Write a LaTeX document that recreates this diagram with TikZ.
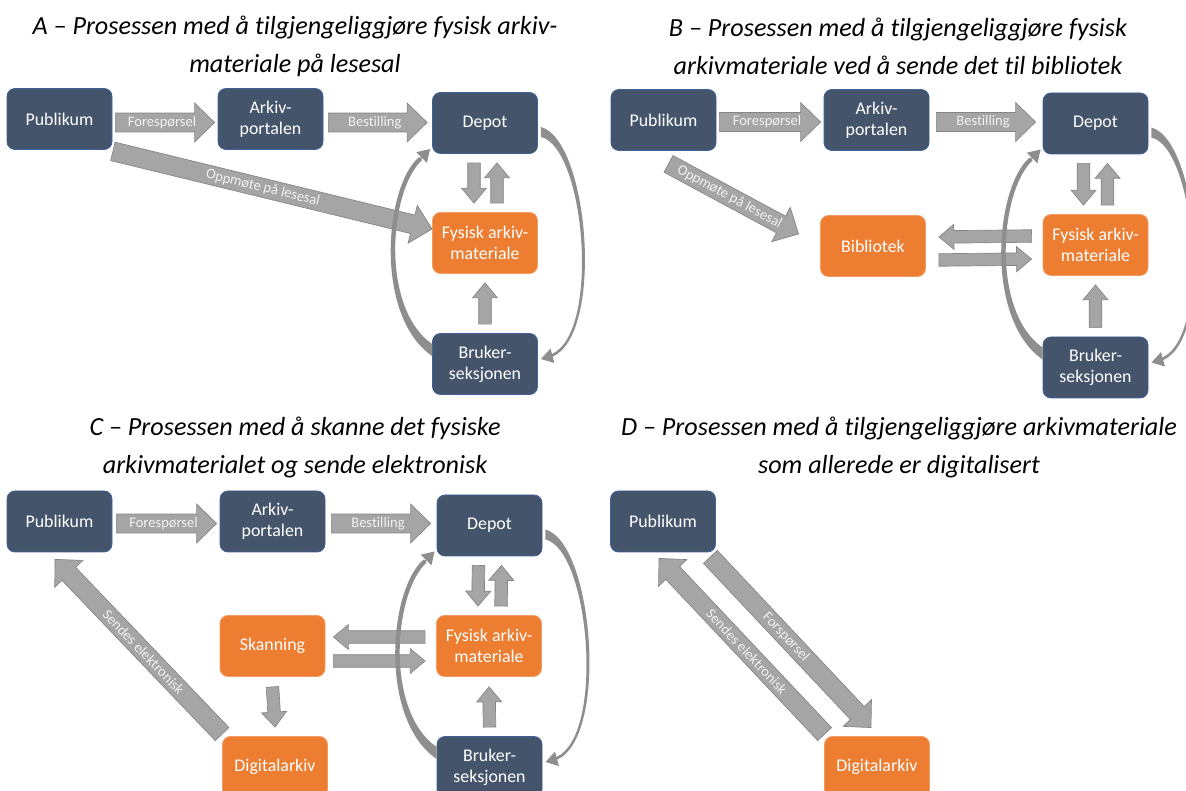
\documentclass[tikz,border=0pt]{standalone}
\usepackage{fontspec}
\setmainfont{Carlito}[Ligatures=NoCommon]
\usetikzlibrary{calc,arrows.meta}

\definecolor{navy}{HTML}{44546A}
\definecolor{navyedge}{HTML}{3E6199}
\definecolor{orng}{HTML}{ED7D31}
\definecolor{blkfill}{HTML}{A5A5A5}
\definecolor{blkedge}{HTML}{858585}
\definecolor{blktext}{HTML}{F2F2F2}
\definecolor{curvgray}{HTML}{8E8E8E}

\def\sw{7.1pt}\def\hw{14.6pt}\def\hl{15pt}
\newcommand\blockarr[3]{%
  \coordinate (ta) at (#1);
  \coordinate (tb) at (#2);
  \coordinate (hb) at ($(tb)!\hl!(ta)$);
  \filldraw[B] ($(ta)!\sw!90:(tb)$) -- ($(hb)!\sw!90:(tb)$) -- ($(hb)!\hw!90:(tb)$) -- (tb)
    -- ($(hb)!\hw!-90:(tb)$) -- ($(hb)!\sw!-90:(tb)$) -- ($(ta)!\sw!-90:(tb)$) -- cycle;
  \path (ta) -- (tb) node[pos=0.47, sloped, L] {#3};
}
\newcommand\bigarr[3]{\def\sw{7.1pt}\def\hw{14.6pt}\def\hl{15pt}\blockarr{#1}{#2}{#3}}
\newcommand\smallarr[2]{\def\sw{4.7pt}\def\hw{9.4pt}\def\hl{11.25pt}\blockarr{#1}{#2}{}}
\newcommand\loops[2]{%
  \fill[C] ($(#2.west)+(0,-8)$) .. controls ($(#2.west)+(-58,-48)$) and ($(#1.west)+(-48,64)$) .. ($(#1.west)+(-13,34)$)
    -- ($(#1.west)+(-10,37)$) .. controls ($(#1.west)+(-43,67)$) and ($(#2.west)+(-52,-56)$) .. ($(#2.west)+(0,-20)$) -- cycle;
  \draw[CT] ($(#1.west)+(-12,36)$) -- ($(#1.west)+(-2,26)$);
  \fill[C] ($(#1.east)+(3,4)$) .. controls ($(#1.east)+(51,17)$) and ($(#2.east)+(67,-29)$) .. ($(#2.east)+(14,-7)$)
    -- ($(#2.east)+(14,-10)$) .. controls ($(#2.east)+(63,-32)$) and ($(#1.east)+(47,24)$) .. ($(#1.east)+(3,14)$) -- cycle;
  \draw[CT] ($(#2.east)+(14,-8)$) -- ($(#2.east)+(3,-5)$);
}

\begin{document}
\begin{tikzpicture}[x=0.75pt, y=-0.75pt,
    box/.style={rounded corners=6pt, minimum width=78.75pt, minimum height=45.75pt,
      align=center, text=white, inner sep=2pt, line width=0.6pt,
      font=\fontsize{13.4}{15.8}\selectfont},
    D/.style={box, fill=navy, draw=navyedge},
    O/.style={box, fill=orng, draw=orng!75!white},
    B/.style={fill=blkfill, draw=blkedge, line width=0.5pt},
    L/.style={text=blktext, inner sep=0pt, font=\fontsize{10.9}{12}\selectfont},
    C/.style={fill=curvgray},
    CT/.style={draw=curvgray, line width=1pt, -{Triangle[length=9pt,width=11pt]}},
    T/.style={align=center, font=\fontsize{19.6}{28.5}\selectfont\itshape}]
  \useasboundingbox (0,0) rectangle (1186,791);

  \node[T] (titA) at (295,46) {A – Prosessen med å tilgjengeliggjøre fysisk arkiv-\\materiale på lesesal};
  \node[T] (titB) at (898,46) {B – Prosessen med å tilgjengeliggjøre fysisk\\arkivmateriale ved å sende det til bibliotek};
  \node[T] (titC) at (295,447) {C – Prosessen med å skanne det fysiske\\arkivmaterialet og sende elektronisk};
  \node[T] (titD) at (899,447) {D – Prosessen med å tilgjengeliggjøre arkivmateriale\\som allerede er digitalisert};

  % A
  \node[D] (pubA) at (59.5,119) {Publikum};
  \node[D] (arkA) at (270.5,119) {Arkiv-\\portalen};
  \node[D] (depA) at (485,123) {Depot};
  \node[O] (fysA) at (485,243) {Fysisk arkiv-\\materiale};
  \node[D] (bruA) at (485,364) {Bruker-\\seksjonen};
  \bigarr{$(pubA.east)+(3,3.5)$}{$(arkA.west)+(-3,3.5)$}{Forespørsel}
  \bigarr{$(arkA.east)+(5,3.5)$}{$(depA.west)+(-5,-0.5)$}{Bestilling}
  \bigarr{$(pubA.south east)+(0.5,1.5)$}{$(fysA.west)+(0,-14)$}{Oppmøte på lesesal}
  \smallarr{$(depA.south)+(-11,9)$}{$(fysA.north)+(-11,-9)$}
  \smallarr{$(fysA.north)+(12,-9)$}{$(depA.south)+(12,9)$}
  \smallarr{$(bruA.north)+(0,-9)$}{$(fysA.south)+(0,9)$}
  \loops{depA}{bruA}

  % B
  \node[D] (pubB) at (663.5,120) {Publikum};
  \node[D] (arkB) at (876.5,120) {Arkiv-\\portalen};
  \node[D] (depB) at (1095.5,123.5) {Depot};
  \node[O] (fysB) at (1095.5,245) {Fysisk arkiv-\\materiale};
  \node[O] (bibB) at (873,246) {Bibliotek};
  \node[D] (bruB) at (1095.5,367.5) {Bruker-\\seksjonen};
  \bigarr{$(pubB.east)+(3,2)$}{$(arkB.west)+(-3,2)$}{Forespørsel}
  \bigarr{$(arkB.east)+(7,2)$}{$(depB.west)+(-7,-1.5)$}{Bestilling}
  \bigarr{$(pubB.south)+(5,13)$}{$(bibB.west)+(-21.5,-12)$}{Oppmøte på lesesal}
  \smallarr{$(depB.south)+(-12,9)$}{$(fysB.north)+(-12,-9)$}
  \smallarr{$(fysB.north)+(12,-9)$}{$(depB.south)+(12,9)$}
  \smallarr{$(fysB.west)+(-11,-9)$}{$(bibB.east)+(13,-9)$}
  \smallarr{$(bibB.east)+(13,14)$}{$(fysB.west)+(-11,14)$}
  \smallarr{$(bruB.north)+(0,-9)$}{$(fysB.south)+(0,9)$}
  \loops{depB}{bruB}

  % C
  \node[D] (pubC) at (59.5,521.5) {Publikum};
  \node[D] (arkC) at (272.5,521.5) {Arkiv-\\portalen};
  \node[D] (depC) at (489.5,525.5) {Depot};
  \node[O] (fysC) at (489,646) {Fysisk arkiv-\\materiale};
  \node[O] (skaC) at (272.5,646) {Skanning};
  \node[O] (digC) at (275,767) {Digitalarkiv};
  \node[D] (bruC) at (489.5,767) {Bruker-\\seksjonen};
  \bigarr{$(pubC.east)+(4,2)$}{$(arkC.west)+(-3,2)$}{Forespørsel}
  \bigarr{$(arkC.east)+(6,2)$}{$(depC.west)+(-6,-2)$}{Bestilling}
  \smallarr{$(depC.south)+(-11,9)$}{$(fysC.north)+(-11,-9)$}
  \smallarr{$(fysC.north)+(12,-9)$}{$(depC.south)+(12,9)$}
  \smallarr{$(fysC.west)+(-11,-9)$}{$(skaC.east)+(8,-9)$}
  \smallarr{$(skaC.east)+(8,15)$}{$(fysC.west)+(-11,15)$}
  \smallarr{$(skaC.south)+(0,10)$}{$(digC.north)+(0,-9)$}
  \smallarr{$(bruC.north)+(0,-9)$}{$(fysC.south)+(0,10)$}
  \bigarr{$(digC.north west)+(0,-2)$}{$(pubC.south)+(-4.5,7)$}{Sendes elektronisk}
  \loops{depC}{bruC}

  % D
  \node[D] (pubD) at (663,521.5) {Publikum};
  \node[O] (digD) at (877,767) {Digitalarkiv};
  \bigarr{$(pubD.south east)+(-5.5,4.5)$}{$(digD.north)+(-6,-8.5)$}{Forspørsel}
  \bigarr{$(digD.north west)+(0.5,-2)$}{$(pubD.south)+(-4,6)$}{Sendes elektronisk}
\end{tikzpicture}
\end{document}
